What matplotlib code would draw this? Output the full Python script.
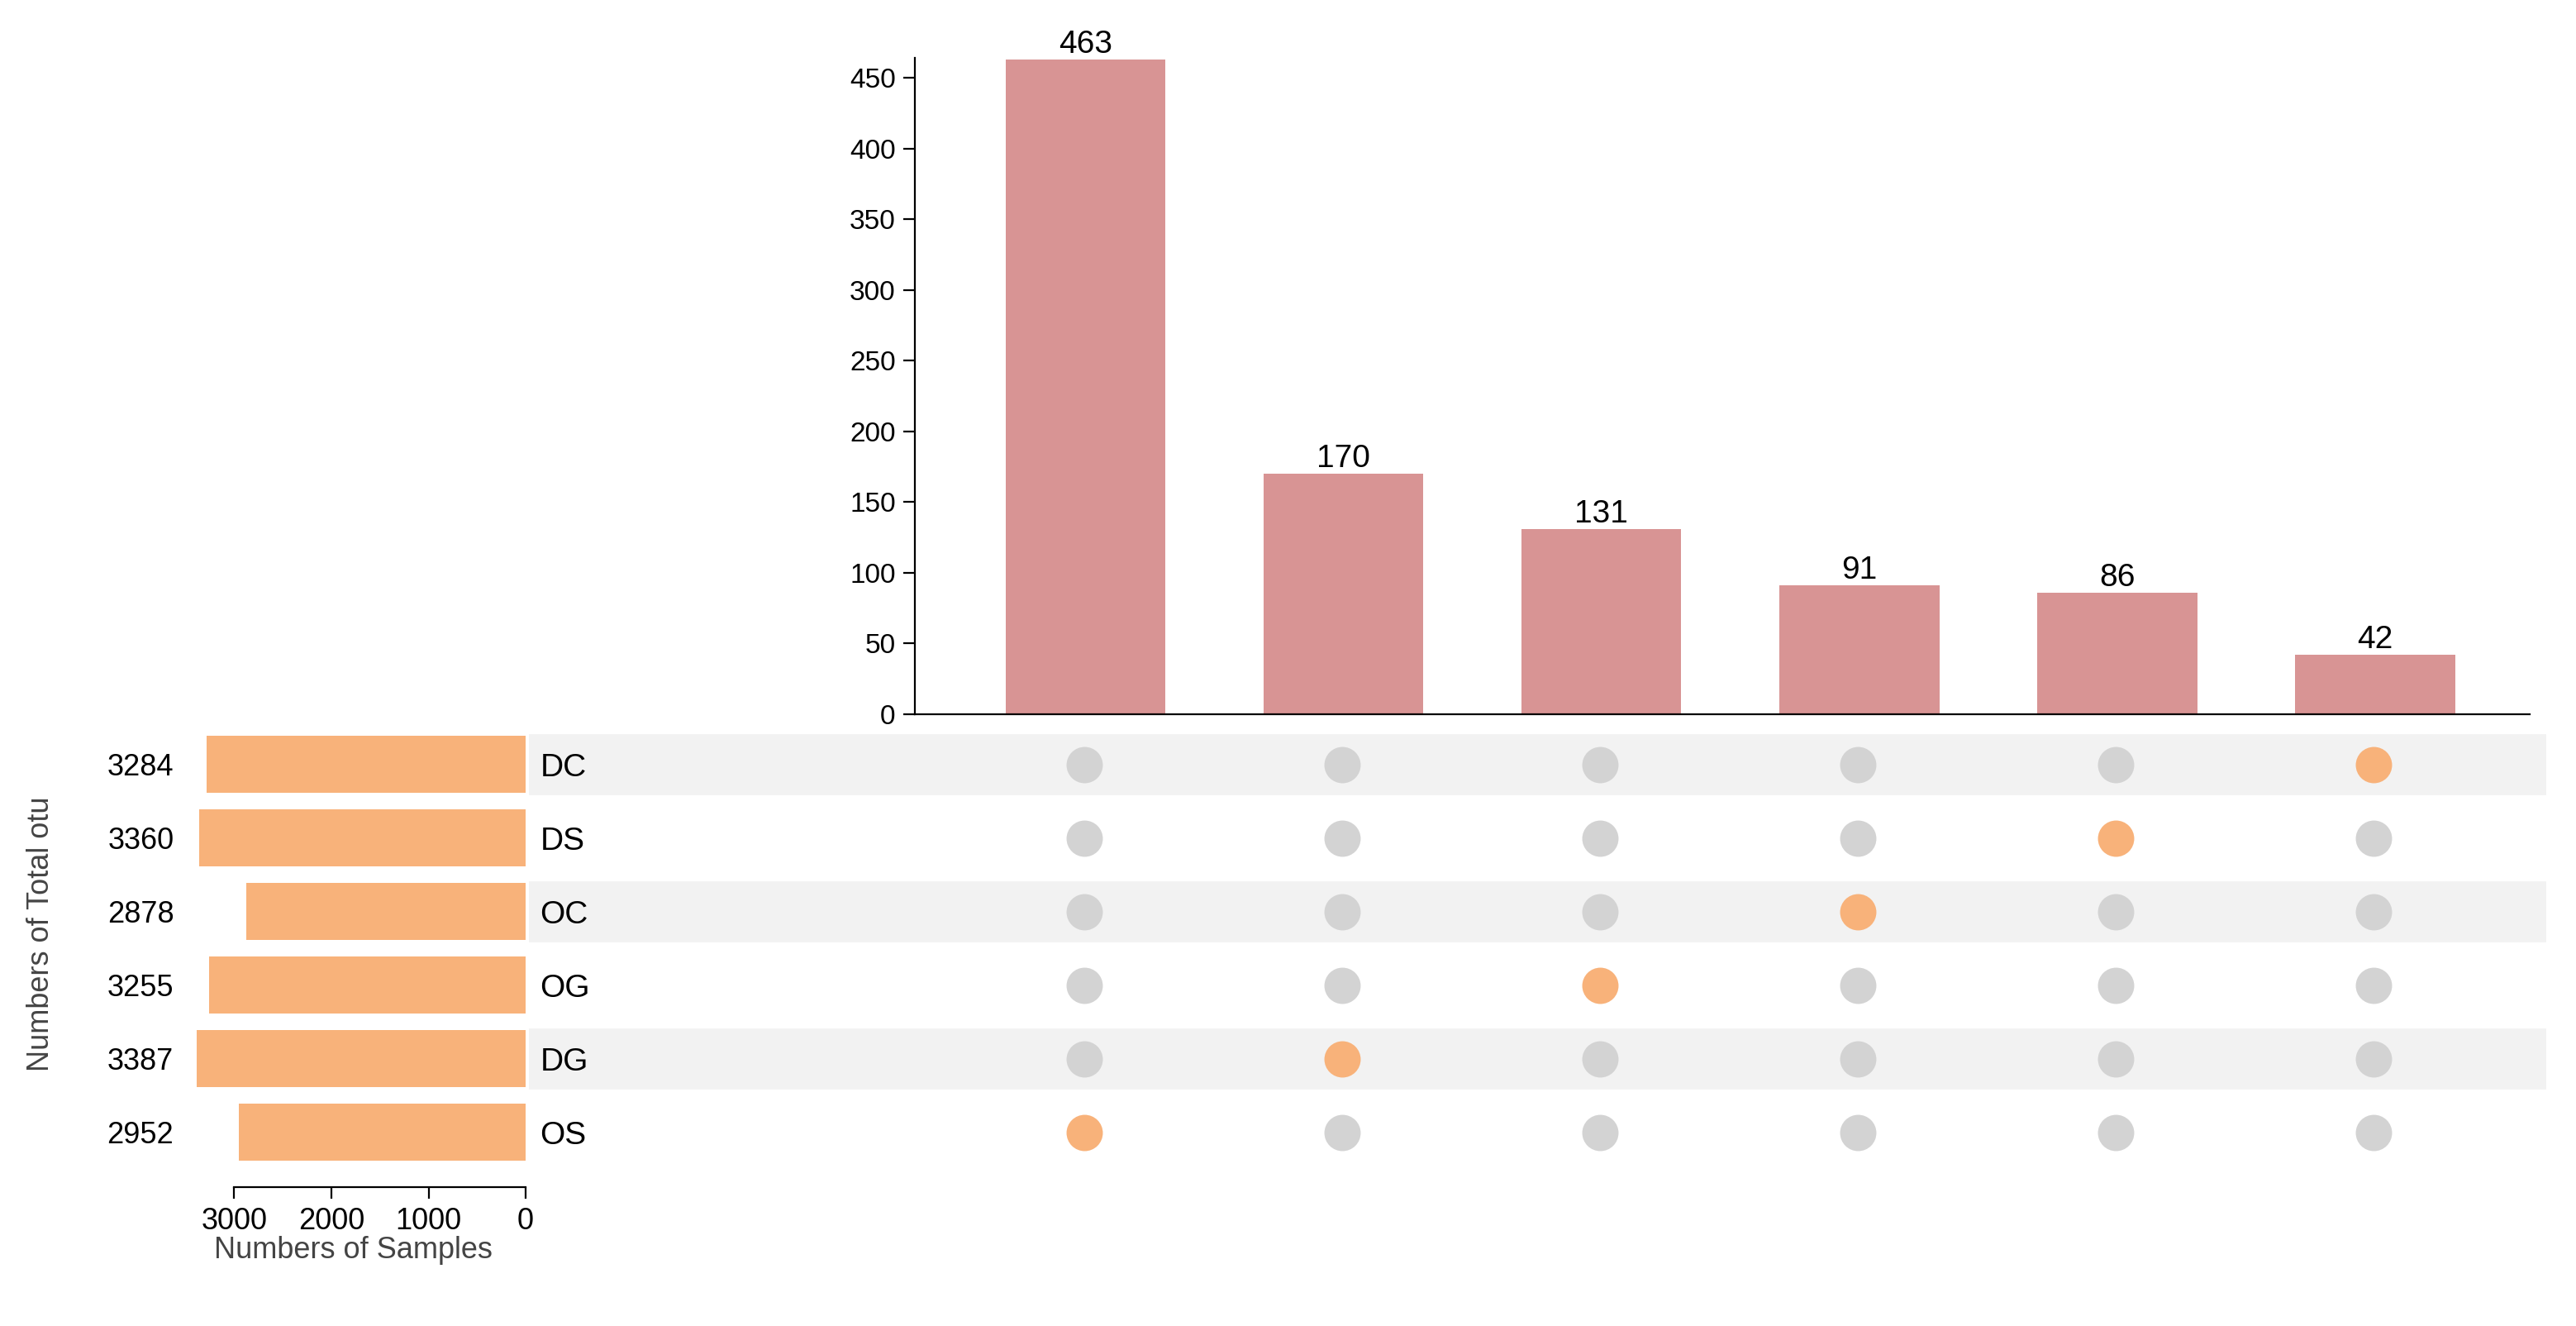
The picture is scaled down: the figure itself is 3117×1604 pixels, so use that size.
import matplotlib
matplotlib.use("Agg")
import matplotlib.pyplot as plt
from matplotlib.transforms import blended_transform_factory

sets = ["DC", "DS", "OC", "OG", "DG", "OS"]
set_sizes = [3284, 3360, 2878, 3255, 3387, 2952]
inter_counts = [463, 170, 131, 91, 86, 42]
inter_members = ["OS", "DG", "OG", "OC", "DS", "DC"]
y_ticks = [0, 50, 100, 150, 200, 250, 300, 350, 400, 450]
size_ticks = [3000, 2000, 1000, 0]

BAR = "#d89494"
ORANGE = "#f8b27a"
GREY = "#d3d3d3"
BAND = "#f2f2f2"

W, H = 1568.0, 802.0
fig = plt.figure(figsize=(3117 / 200, 1604 / 200), dpi=200)
plt.rcParams["font.family"] = ["Liberation Sans", "DejaVu Sans"]


def rect(x0, y0, x1, y1):
    return [x0 / W, 1 - y1 / H, (x1 - x0) / W, (y1 - y0) / H]


# intersection bars
ax = fig.add_axes(rect(557, 35, 1540, 432))
xs = list(range(len(inter_counts)))
ax.bar(xs, inter_counts, width=0.62, color=BAR)
for x, v in zip(xs, inter_counts):
    ax.text(x, v, str(v), ha="center", va="bottom", fontsize=14)
ax.set_xlim(-0.66, 5.6)
ax.set_ylim(0, 464)
ax.set_yticks(y_ticks)
ax.tick_params(axis="y", labelsize=12, length=5)
ax.set_xticks([])
for s in ["top", "right"]:
    ax.spines[s].set_visible(False)

# matrix
n = len(sets)
mx = fig.add_axes(rect(322, 440, 1550, 707))
mx.set_xlim(-2.153, 5.669)
mx.set_ylim(n - 0.5, -0.5)
mx.axis("off")
for i, name in enumerate(sets):
    if i % 2 == 0:
        mx.axhspan(i - 0.4, i + 0.4, color=BAND, zorder=0)
    mx.text(-2.11, i + 0.05, name, ha="left", va="center", fontsize=14)
    for j, m in enumerate(inter_members):
        mx.scatter(j, i, s=250, color=ORANGE if m == name else GREY,
                   zorder=3, linewidths=0)

# set size bars
sx = fig.add_axes(rect(110, 440, 320, 707))
sx.set_xlim(3550, 0)
sx.set_ylim(n - 0.5, -0.5)
sx.barh(range(n), set_sizes, height=0.78, color=ORANGE)
tr = blended_transform_factory(sx.transAxes, sx.transData)
for i, v in enumerate(set_sizes):
    sx.text(-0.02, i + 0.05, str(v), transform=tr, ha="right", va="center",
            fontsize=13)
sx.set_yticks([])
sx.set_xticks(size_ticks)
sx.tick_params(axis="x", labelsize=13, length=5)
for s in ["top", "right", "left"]:
    sx.spines[s].set_visible(False)
sx.spines["bottom"].set_bounds(0, 3000)
sx.spines["bottom"].set_position(("outward", 8))
sx.set_xlabel("Numbers of Samples", fontsize=13, color="#444444", labelpad=0)
fig.text(25 / W, 1 - 565 / H, "Numbers of Total otu", rotation=90,
         ha="center", va="center", fontsize=13, color="#444444")

fig.savefig("out.png", dpi=200)
